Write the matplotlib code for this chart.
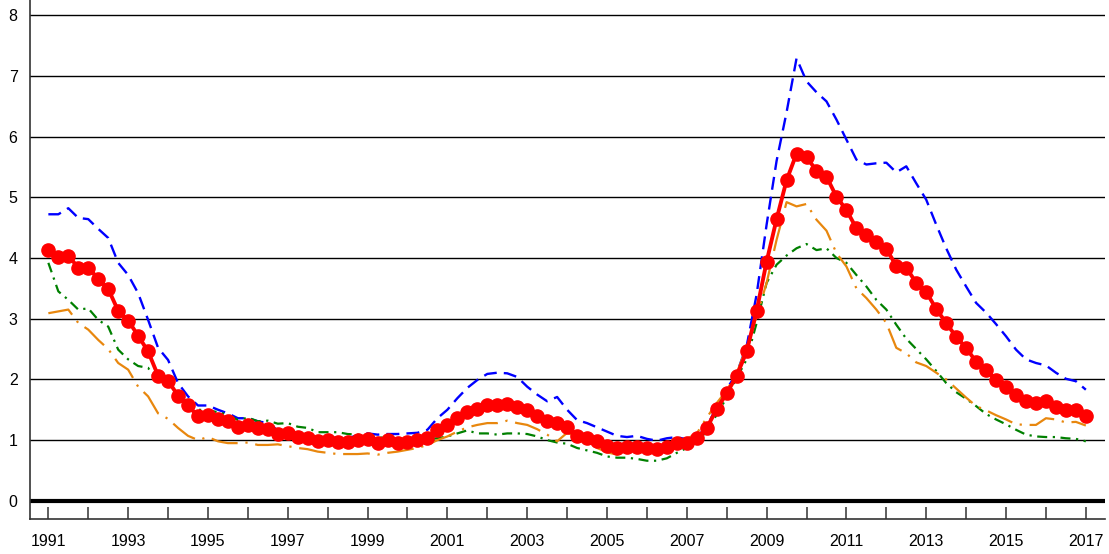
import numpy as np
import matplotlib
matplotlib.use("Agg")
import matplotlib.pyplot as plt

plt.rcParams['font.family'] = ['Liberation Sans', 'DejaVu Sans']

start_year = 1991
quarters_per_year = 4

red = [4.13, 4.01, 4.04, 3.84, 3.84, 3.66, 3.49, 3.13, 2.97, 2.72, 2.46, 2.06, 1.98, 1.73, 1.57, 1.39, 1.41, 1.35, 1.31, 1.22, 1.25, 1.20, 1.18, 1.10, 1.11, 1.05,
       1.04, 0.99, 1.00, 0.97, 0.97, 1.00, 1.01, 0.96, 1.00, 0.96, 0.97, 1.00, 1.04, 1.17, 1.25, 1.36, 1.47, 1.52, 1.57, 1.57, 1.60, 1.55, 1.49, 1.39, 1.31, 1.28, 1.22,
       1.07, 1.03, 0.98, 0.91, 0.87, 0.89, 0.89, 0.87, 0.85, 0.89, 0.95, 0.96, 1.03,
       1.20, 1.51, 1.77, 2.06, 2.46, 3.13, 3.94, 4.64, 5.28, 5.72, 5.66, 5.44, 5.34, 5.01, 4.79, 4.49, 4.38, 4.27, 4.15,
       3.87, 3.84, 3.59, 3.44,
       3.16, 2.93, 2.70, 2.52, 2.29, 2.16, 1.99, 1.87, 1.75, 1.65, 1.61, 1.64, 1.55, 1.50, 1.49, 1.40]

blue = [4.72, 4.72, 4.82, 4.66, 4.64, 4.48, 4.33, 3.92, 3.72, 3.42, 2.98, 2.52, 2.32, 1.94, 1.72, 1.57, 1.57, 1.50, 1.44, 1.36, 1.36, 1.31, 1.28, 1.16, 1.14, 1.06,
        1.06, 1.04, 1.05, 1.03, 1.03, 1.08, 1.11, 1.09, 1.10, 1.10, 1.11, 1.12, 1.17, 1.36, 1.50, 1.69, 1.86, 1.99, 2.09, 2.11, 2.10, 2.04, 1.88, 1.75, 1.64, 1.71, 1.50,
        1.33, 1.28, 1.21, 1.14, 1.07, 1.05, 1.07, 1.02, 0.99, 1.03, 1.05, 1.01, 1.05,
        1.22, 1.55, 1.84, 2.10, 2.55, 3.40, 4.55, 5.60, 6.40, 7.29, 6.91, 6.73, 6.58, 6.28, 5.95, 5.62, 5.54, 5.56, 5.57,
        5.41, 5.51, 5.23, 4.96, 4.55, 4.16, 3.81, 3.53, 3.26, 3.10, 2.91, 2.71, 2.49, 2.33, 2.27, 2.23, 2.11, 2.01, 1.97, 1.83]

orange = [3.09, 3.12, 3.15, 2.93, 2.82, 2.65, 2.50, 2.27, 2.16, 1.88, 1.72, 1.44, 1.35, 1.20, 1.07, 1.00, 1.05, 0.98, 0.95, 0.95, 0.96, 0.92, 0.92, 0.93, 0.90, 0.87,
          0.85, 0.81, 0.79, 0.77, 0.77, 0.77, 0.78, 0.76, 0.79, 0.81, 0.84, 0.87, 0.92, 1.00, 1.06, 1.14, 1.21, 1.25, 1.28, 1.28, 1.32, 1.28, 1.25, 1.18, 1.09, 0.98, 1.12,
          1.06, 0.98, 0.87, 0.80, 0.76, 0.80, 0.84, 0.82, 0.79, 0.88, 0.96, 1.02, 1.11,
          1.37, 1.61, 1.82, 2.10, 2.54, 3.04, 3.59, 4.30, 4.92, 4.85, 4.89, 4.63, 4.45, 4.08, 3.86, 3.50, 3.34, 3.15, 2.93,
          2.52, 2.43, 2.28, 2.22, 2.11, 2.00, 1.85, 1.70, 1.56, 1.49, 1.41, 1.34, 1.26, 1.25, 1.25, 1.36, 1.34, 1.29, 1.30, 1.24]

green = [3.92, 3.45, 3.31, 3.15, 3.17, 2.98, 2.87, 2.49, 2.33, 2.22, 2.19, 1.94, 1.94, 1.75, 1.58, 1.50, 1.49, 1.46, 1.42, 1.33, 1.37, 1.31, 1.32, 1.27, 1.28, 1.22,
         1.20, 1.13, 1.13, 1.13, 1.10, 1.09, 1.06, 1.05, 1.03, 0.99, 0.96, 0.97, 1.02, 1.03, 1.06, 1.11, 1.16, 1.11, 1.11, 1.09, 1.11, 1.11, 1.10, 1.06, 1.00, 0.96, 0.94,
         0.87, 0.83, 0.79, 0.73, 0.71, 0.71, 0.69, 0.66, 0.66, 0.70, 0.79, 0.87, 0.96,
         1.15, 1.42, 1.70, 2.02, 2.33, 2.93, 3.59, 3.89, 4.04, 4.16, 4.23, 4.13, 4.16, 4.00, 3.92, 3.72, 3.53, 3.31, 3.15,
         2.90, 2.67, 2.50, 2.33, 2.14, 1.94, 1.79, 1.68, 1.56, 1.43, 1.34, 1.26, 1.17, 1.09, 1.06, 1.05, 1.05, 1.03, 1.02, 0.98]

year_ticks = list(range(1991, 2018))
year_labels = [str(y) if (y - 1991) % 2 == 0 else '' for y in year_ticks]
y_ticks = list(range(0, 9))

t = start_year + np.arange(len(red)) / quarters_per_year

fig = plt.figure(figsize=(11.09, 5.54), dpi=100)
ax = fig.add_axes([30 / 1109, 1 - 519 / 554, (1105 - 30) / 1109, 519 / 554])

for yv in y_ticks[1:]:
    ax.axhline(yv, color='black', lw=1.0, zorder=1)
ax.axhline(0, color='black', lw=3.0, zorder=1)

ax.plot(t, blue, color='#0000FF', lw=1.7, linestyle=(0, (5.5, 3)), zorder=3)
ax.plot(t, green, color='#008000', lw=1.6, linestyle=(0, (4.5, 2.5, 1, 2.5)), zorder=3)
ax.plot(t, orange, color='#E8870E', lw=1.6, linestyle=(0, (12, 3.5, 1, 3.5)), zorder=3)
ax.plot(t, red, color='#FF0000', lw=2.8, marker='o', markersize=9.5, zorder=4)

ax.set_xlim(1990.54, 2017.48)
ax.set_ylim(-0.30, 8.25)

ax.set_xticks(year_ticks)
ax.set_xticklabels(year_labels)
ax.set_yticks(y_ticks)
ax.tick_params(axis='x', direction='in', length=9, width=1.1, color='#333333', pad=11, labelsize=11.5)
ax.tick_params(axis='y', length=0, pad=9, labelsize=11.5)

for s in ['top', 'right']:
    ax.spines[s].set_visible(False)
for s in ['left', 'bottom']:
    ax.spines[s].set_color('#333333')
    ax.spines[s].set_linewidth(1.2)

fig.savefig('out.png', dpi=100)
